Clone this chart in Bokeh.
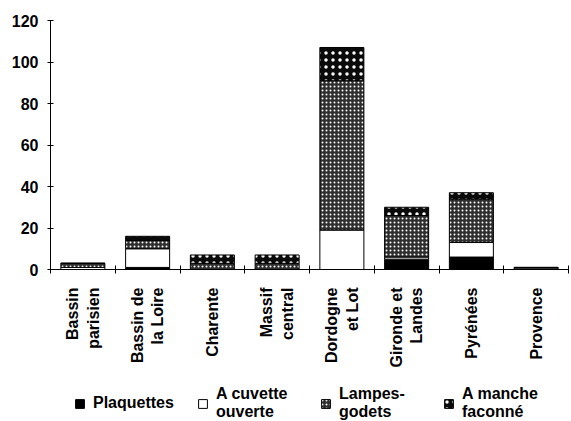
import math
from bokeh.plotting import figure
from bokeh.layouts import column
from bokeh.models import ColumnDataSource, FixedTicker, Legend, LegendItem, Range1d
from bokeh.transform import stack
from bokeh.embed import file_html
from bokeh.resources import INLINE

regions = ["Bassin\nparisien", "Bassin de\nla Loire", "Charente", "Massif\ncentral",
           "Dordogne\net Lot", "Gironde et\nLandes", "Pyrénées", "Provence"]
plaquettes = [0, 1, 0, 0, 0, 5, 6, 0]
cuvette = [1, 9, 0, 0, 19, 1, 7, 0]
lampes = [2, 4, 3, 3, 72, 20, 21, 1]
manche = [0, 2, 4, 4, 16, 4, 3, 0]
series_labels = ["Plaquettes", "A cuvette\nouverte", "Lampes-\ngodets", "A manche\nfaconné"]
y_ticks = [0, 20, 40, 60, 80, 100, 120]

xs = list(range(1, len(regions) + 1))
source = ColumnDataSource(dict(x=xs, plaquettes=plaquettes, cuvette=cuvette,
                               lampes=lampes, manche=manche))

FONT = "Liberation Sans"

p = figure(width=571, height=379, min_border_left=50, min_border_top=20,
           min_border_right=3, min_border_bottom=110,
           x_range=Range1d(0.5, 8.5), y_range=Range1d(0, 120),
           output_backend="svg", toolbar_location=None)
p.outline_line_color = None
p.xgrid.grid_line_color = None
p.ygrid.grid_line_color = None

keys = ["plaquettes", "cuvette", "lampes", "manche"]
styles = [
    dict(fill_color="black"),
    dict(fill_color="white"),
    dict(fill_color="#2e2e2e", hatch_pattern="dot", hatch_color="white", hatch_scale=4, hatch_weight=2),
    dict(fill_color="#0a0a0a", hatch_pattern="dot", hatch_color="white", hatch_scale=7, hatch_weight=2),
]
for i, k in enumerate(keys):
    p.vbar(x="x", width=0.68, bottom=stack(*keys[:i]), top=stack(*keys[:i + 1]),
           source=source, line_color="black", line_width=1, **styles[i])

xa = p.xaxis[0]
xa.ticker = FixedTicker(ticks=xs, minor_ticks=[x + 0.5 for x in range(0, 9)])
xa.major_label_overrides = {x: lab for x, lab in zip(xs, regions)}
xa.major_label_orientation = math.pi / 2
xa.major_tick_line_color = None
xa.major_tick_in = 0
xa.major_tick_out = 0
xa.minor_tick_in = 4
xa.minor_tick_out = 4
xa.minor_tick_line_color = "black"
xa.axis_line_color = "black"
xa.major_label_standoff = 14
xa.major_label_text_font = FONT
xa.major_label_text_font_size = "16px"
xa.major_label_text_font_style = "bold"
xa.major_label_text_color = "black"

ya = p.yaxis[0]
ya.ticker = FixedTicker(ticks=y_ticks)
ya.major_tick_in = 3
ya.major_tick_out = 3
ya.minor_tick_line_color = None
ya.axis_line_color = "black"
ya.major_tick_line_color = "black"
ya.major_label_standoff = 9
ya.major_label_text_font = FONT
ya.major_label_text_font_size = "16px"
ya.major_label_text_font_style = "bold"
ya.major_label_text_color = "black"

# legend strip (separate figure so the legend is not clipped by the plot frame)
lf = figure(width=571, height=42, min_border=0, x_axis_type=None, y_axis_type=None,
            x_range=Range1d(0, 1), y_range=Range1d(0, 1),
            output_backend="svg", toolbar_location=None)
lf.outline_line_color = None
lf.xgrid.grid_line_color = None
lf.ygrid.grid_line_color = None
proxy = ColumnDataSource(dict(x=[-1], top=[0]))  # legend proxies, outside the visible range
leg_renderers = [lf.vbar(x="x", top="top", width=0.0, source=proxy, line_color="black",
                         line_width=1, **styles[i]) for i in range(4)]

legend = Legend(items=[LegendItem(label=series_labels[i], renderers=[leg_renderers[i]]) for i in range(4)],
                orientation="horizontal", location=(24, 0),
                label_text_font=FONT, label_text_font_size="16px", label_text_font_style="bold",
                label_text_color="black", label_text_line_height=1.05,
                glyph_width=11, glyph_height=11, label_standoff=8, label_width=90, spacing=14,
                padding=0, margin=0, border_line_color=None, background_fill_alpha=0)
lf.add_layout(legend)

layout = column(p, lf, spacing=0)
open("out.html", "w").write(file_html(layout, INLINE))
